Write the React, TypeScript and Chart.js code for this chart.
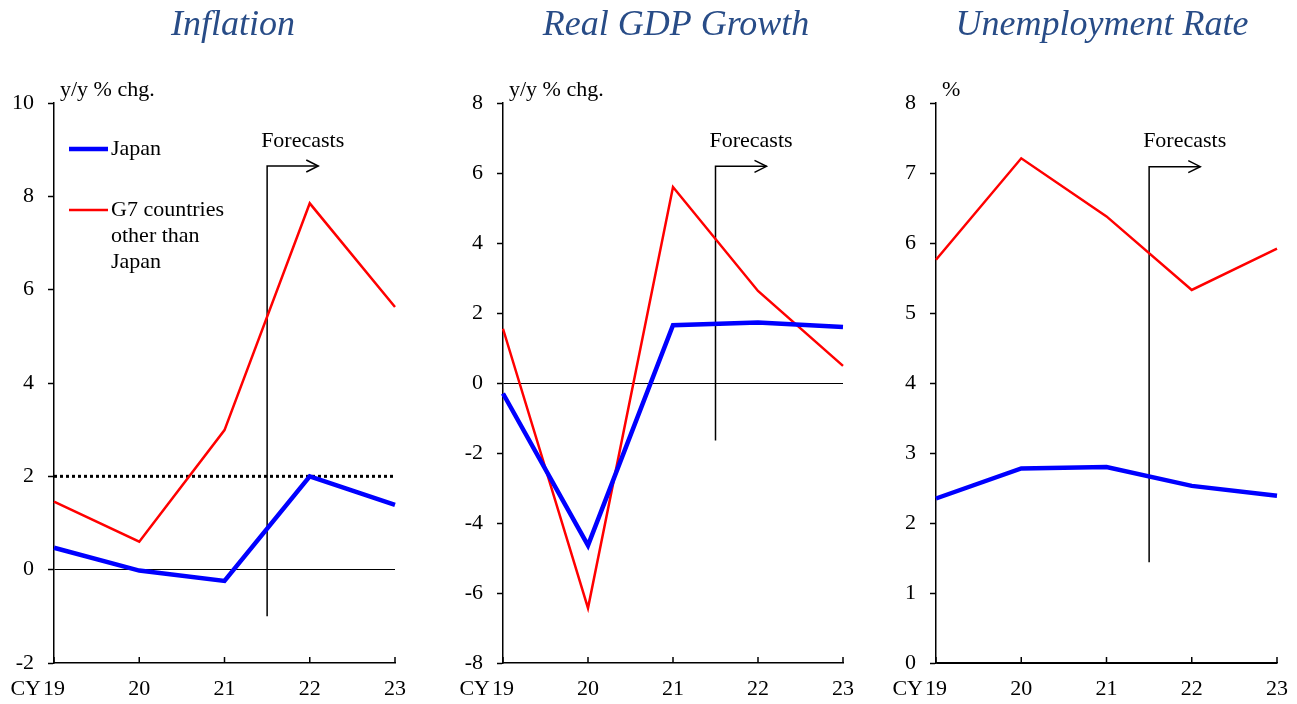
import React, { useEffect, useRef } from "react";
import { Chart, registerables } from "chart.js";

Chart.register(...registerables);

// ---------- data ----------
const YEARS = ["19", "20", "21", "22", "23"];
const FIRST_LABEL_PREFIX = "CY";

const INFLATION_JAPAN = [0.47, -0.02, -0.24, 2.0, 1.39];
const INFLATION_G7 = [1.46, 0.6, 2.99, 7.85, 5.63];
const INFLATION_TARGET = 2;

const GDP_JAPAN = [-0.3, -4.64, 1.65, 1.73, 1.6];
const GDP_G7 = [1.55, -6.43, 5.6, 2.63, 0.49];

const UNEMP_JAPAN = [2.35, 2.78, 2.8, 2.53, 2.39];
const UNEMP_G7 = [5.76, 7.21, 6.38, 5.33, 5.92];

const SERIES_NAMES = ["Japan", "G7 countries other than Japan"];
const LEGEND_LINES = [["Japan"], ["G7 countries", "other than", "Japan"]];
const FORECAST_TEXT = "Forecasts";
const FORECAST_INDEX = 2.5; // between CY21 and CY22

// ---------- styling ----------
const FONT = '"Liberation Serif", "Times New Roman", Times, serif';
const TITLE_COLOR = "#284C87";
const BLUE = "#0000FF";
const RED = "#FF0000";

type Panel = {
  title: string;
  unit: string;
  left: number;
  width: number;
  axisWidth: number;
  padRight: number;
  titleCenter: number;
  japan: number[];
  g7: number[];
  yMin: number;
  yMax: number;
  yStep: number;
  fcTop: number;
  fcBottom: number;
  legend: boolean;
  target: number | null;
};

const PANELS: Panel[] = [
  {
    title: "Inflation",
    unit: "y/y % chg.",
    left: 0,
    width: 430,
    axisWidth: 54,
    padRight: 35,
    titleCenter: 233,
    japan: INFLATION_JAPAN,
    g7: INFLATION_G7,
    yMin: -2,
    yMax: 10,
    yStep: 2,
    fcTop: 8.65,
    fcBottom: -1.0,
    legend: true,
    target: INFLATION_TARGET,
  },
  {
    title: "Real GDP Growth",
    unit: "y/y % chg.",
    left: 430,
    width: 435,
    axisWidth: 73,
    padRight: 22,
    titleCenter: 676,
    japan: GDP_JAPAN,
    g7: GDP_G7,
    yMin: -8,
    yMax: 8,
    yStep: 2,
    fcTop: 6.19,
    fcBottom: -1.64,
    legend: false,
    target: null,
  },
  {
    title: "Unemployment Rate",
    unit: "%",
    left: 865,
    width: 432,
    axisWidth: 71,
    padRight: 20,
    titleCenter: 1102,
    japan: UNEMP_JAPAN,
    g7: UNEMP_G7,
    yMin: 0,
    yMax: 8,
    yStep: 1,
    fcTop: 7.09,
    fcBottom: 1.44,
    legend: false,
    target: null,
  },
];

const TICK_FONT_SIZE = 22;
const X_PAD = 13;

function makeDecor(p: Panel) {
  return {
    id: "decor" + p.title.replace(/\s/g, ""),
    beforeDatasetsDraw(chart: any) {
      const { ctx, chartArea } = chart;
      const xs = chart.scales.x;
      const ys = chart.scales.y;
      ctx.save();
      // target dotted line
      if (p.target !== null) {
        const y = ys.getPixelForValue(p.target);
        ctx.strokeStyle = "#000";
        ctx.lineWidth = 3;
        ctx.setLineDash([3, 3]);
        ctx.beginPath();
        ctx.moveTo(chartArea.left, y);
        ctx.lineTo(chartArea.right, y);
        ctx.stroke();
        ctx.setLineDash([]);
      }
      // forecast marker
      const xf = xs.getPixelForValue(FORECAST_INDEX);
      const yt = ys.getPixelForValue(p.fcTop);
      const yb = ys.getPixelForValue(p.fcBottom);
      const xa = xs.getPixelForValue(FORECAST_INDEX + 0.6);
      ctx.strokeStyle = "#000";
      ctx.lineWidth = 1.5;
      ctx.beginPath();
      ctx.moveTo(xf, yb);
      ctx.lineTo(xf, yt);
      ctx.lineTo(xa, yt);
      ctx.stroke();
      ctx.beginPath();
      ctx.moveTo(xa - 12, yt - 6);
      ctx.lineTo(xa, yt);
      ctx.lineTo(xa - 12, yt + 6);
      ctx.stroke();
      ctx.fillStyle = "#000";
      ctx.font = `${TICK_FONT_SIZE}px ${FONT}`;
      ctx.textAlign = "left";
      ctx.textBaseline = "middle";
      ctx.fillText(FORECAST_TEXT, xf - 6, yt - 25);
      ctx.restore();
    },
    afterDraw(chart: any) {
      const { ctx, chartArea } = chart;
      const xs = chart.scales.x;
      ctx.save();
      // inward x ticks
      ctx.strokeStyle = "#000";
      ctx.lineWidth = 1.5;
      for (let i = 0; i < YEARS.length; i++) {
        const x = xs.getPixelForValue(i);
        ctx.beginPath();
        ctx.moveTo(x, chartArea.bottom);
        ctx.lineTo(x, chartArea.bottom - 6);
        ctx.stroke();
      }
      // CY prefix
      ctx.font = `${TICK_FONT_SIZE}px ${FONT}`;
      ctx.fillStyle = "#000";
      ctx.textAlign = "right";
      ctx.textBaseline = "middle";
      const w0 = ctx.measureText(YEARS[0]).width;
      const yLab = xs.top + X_PAD + (TICK_FONT_SIZE * 1.2) / 2;
      ctx.fillText(FIRST_LABEL_PREFIX, xs.getPixelForValue(0) - w0 / 2 - 2, yLab);
      // unit
      ctx.textAlign = "left";
      ctx.fillText(p.unit, chartArea.left + 6, 90);
      // title
      ctx.font = `italic 36px ${FONT}`;
      ctx.fillStyle = TITLE_COLOR;
      ctx.textAlign = "center";
      ctx.textBaseline = "alphabetic";
      ctx.fillText(p.title, p.titleCenter - p.left, 35);
      // legend
      if (p.legend) {
        const ds = chart.data.datasets;
        const rows = [149, 210];
        ctx.font = `${TICK_FONT_SIZE}px ${FONT}`;
        ctx.fillStyle = "#000";
        ctx.textAlign = "left";
        ctx.textBaseline = "middle";
        for (let i = 0; i < ds.length; i++) {
          const y = rows[i];
          ctx.strokeStyle = ds[i].borderColor;
          ctx.lineWidth = ds[i].borderWidth;
          ctx.beginPath();
          ctx.moveTo(69, y);
          ctx.lineTo(108, y);
          ctx.stroke();
          LEGEND_LINES[i].forEach((t, k) => ctx.fillText(t, 111, y + k * 26));
        }
      }
      ctx.restore();
    },
  };
}

function PanelChart({ p }: { p: Panel }) {
  const ref = useRef<HTMLCanvasElement | null>(null);
  useEffect(() => {
    if (!ref.current) return;
    const font = { family: FONT, size: TICK_FONT_SIZE };
    const chart = new Chart(ref.current, {
      type: "line",
      data: {
        labels: YEARS,
        datasets: [
          {
            label: SERIES_NAMES[0],
            data: p.japan,
            borderColor: BLUE,
            backgroundColor: BLUE,
            borderWidth: 4.5,
            pointRadius: 0,
            tension: 0,
          },
          {
            label: SERIES_NAMES[1],
            data: p.g7,
            borderColor: RED,
            backgroundColor: RED,
            borderWidth: 2.5,
            pointRadius: 0,
            tension: 0,
          },
        ],
      },
      options: {
        animation: false,
        responsive: false,
        maintainAspectRatio: false,
        layout: { padding: { left: 0, right: p.padRight, top: 103, bottom: 0 } },
        plugins: {
          legend: { display: false },
          tooltip: { enabled: false },
          title: { display: false },
        },
        scales: {
          x: {
            type: "category",
            offset: false,
            grid: { color: "rgba(0,0,0,0)", drawTicks: false, drawOnChartArea: false },
            border: { display: true, color: "#000", width: 1.5 },
            ticks: { color: "#000", font, padding: X_PAD, maxRotation: 0, autoSkip: false },
            afterFit: (s: any) => {
              s.height = 41;
              s.paddingLeft = 0;
              s.paddingRight = 0;
            },
          },
          y: {
            min: p.yMin,
            max: p.yMax,
            ticks: { stepSize: p.yStep, color: "#000", font, padding: 14 },
            grid: {
              color: (c: any) => (c.tick && c.tick.value === 0 ? "#000" : "rgba(0,0,0,0)"),
              lineWidth: 1,
              drawTicks: true,
              tickLength: 6,
              tickColor: "#000",
              tickWidth: 1.5,
            },
            border: { display: true, color: "#000", width: 1.5 },
            afterFit: (s: any) => {
              s.width = p.axisWidth;
              s.paddingTop = 0;
              s.paddingBottom = 0;
            },
          },
        },
      },
      plugins: [makeDecor(p)],
    } as any);
    return () => chart.destroy();
  }, [p]);
  return (
    <canvas
      ref={ref}
      width={p.width}
      height={704}
      style={{ position: "absolute", left: p.left, top: 0, width: p.width, height: 704 }}
    />
  );
}

export default function App() {
  return (
    <div
      style={{
        position: "absolute",
        left: 0,
        top: 0,
        width: 1297,
        height: 704,
        background: "#fff",
        overflow: "hidden",
      }}
    >
      {PANELS.map((p) => (
        <PanelChart key={p.title} p={p} />
      ))}
    </div>
  );
}
